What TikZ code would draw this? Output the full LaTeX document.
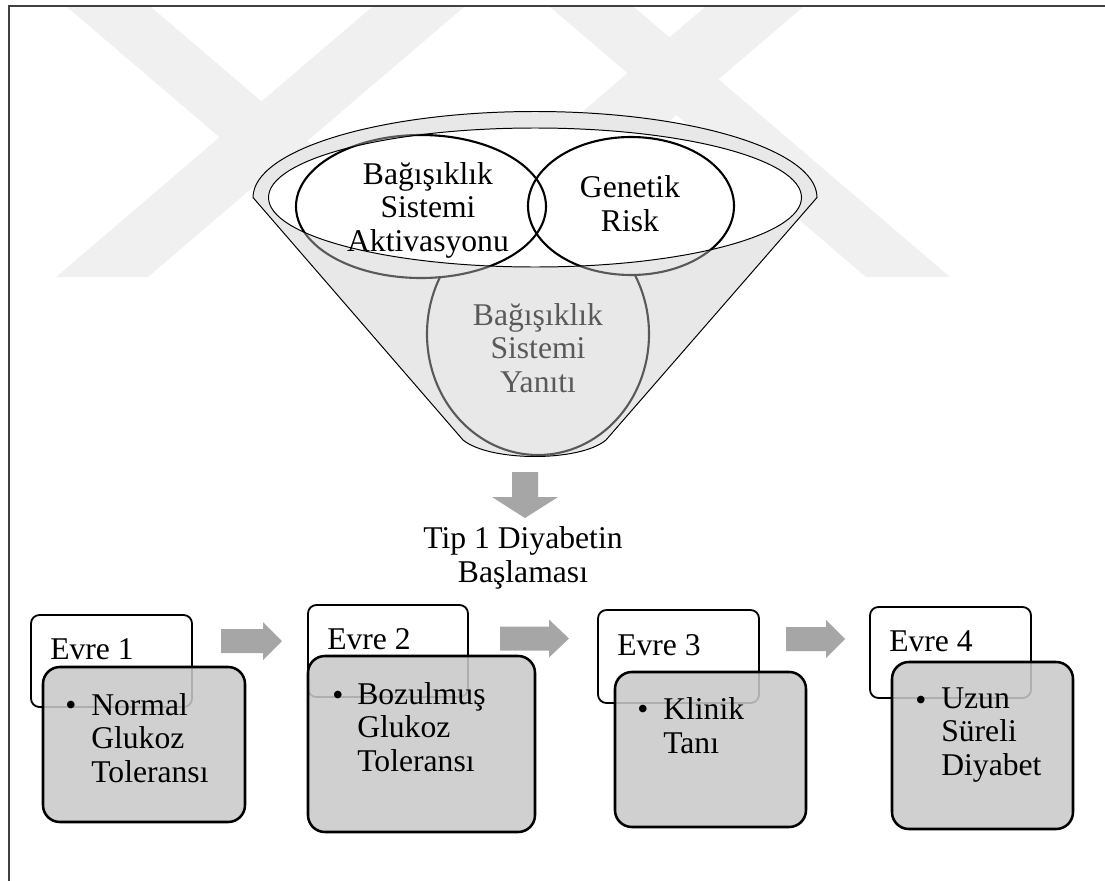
\documentclass[tikz,border=0pt]{standalone}
\usepackage{fontspec}
\setmainfont{Liberation Serif}
\definecolor{wmark}{HTML}{F0F0F0}
\definecolor{frameline}{HTML}{404040}
\definecolor{arrowgray}{HTML}{A6A6A6}
\definecolor{stagegray}{HTML}{C9C9C9}
\definecolor{veil}{HTML}{CCCCCC}

\begin{document}
\begin{tikzpicture}[
  x=0.025cm, y=-0.025cm,
  lbl/.style={font=\fontsize{22.5}{23.5}\selectfont, inner sep=0pt},
  blkarrow/.style={fill=arrowgray},
  evrebox/.style={draw=black, line width=1.3pt, fill=white, rounded corners=6pt},
  itembox/.style={draw=black, line width=1.8pt, fill=stagegray, fill opacity=0.87, rounded corners=12pt},
  ring/.style={line width=0.7pt},
  bubble/.style={line width=1.5pt},
]
\useasboundingbox (0,0) rectangle (1105,881);

% Watermark bands
\fill[wmark] (56,277) -- (148,277) -- (464,7) -- (372,7) -- cycle;
\fill[wmark] (67,7) -- (151,7) -- (467,277) -- (383,277) -- cycle;
\fill[wmark] (389,277) -- (487,277) -- (803,7) -- (705,7) -- cycle;
\fill[wmark] (550,7) -- (634,7) -- (950,277) -- (866,277) -- cycle;

% Frame
\draw[frameline, line width=1.2pt] (9,881) -- (9,6) -- (1105,6);

% === Funnel ===
% body, white underneath
\fill[white] (253,197.5) -- (463,440) .. controls (490,462) and (580,462) .. (606,440)
  -- (817,197.5) arc[start angle=0, end angle=-180, x radius=282, y radius=86] -- cycle;

% bottom circle (anchor base = last line)
\draw[bubble, fill=white] (538,334) ellipse[x radius=111, y radius=121];
\node[lbl, align=center, anchor=base] (yanit) at (538,392)
  {Bağışıklık\\Sistemi\\Yanıtı};

% top circles
\fill[white] (421,206.5) ellipse[x radius=125, y radius=71.5];
\fill[white] (631,206) ellipse[x radius=103, y radius=69];
\draw[bubble] (421,206.5) ellipse[x radius=125, y radius=71.5];
\draw[bubble] (631,206) ellipse[x radius=103, y radius=69];

% front of the funnel (veil), opening left clear
\fill[veil, fill opacity=0.44, even odd rule]
  (253,197.5) -- (463,440) .. controls (490,462) and (580,462) .. (606,440)
  -- (817,197.5) arc[start angle=0, end angle=-180, x radius=282, y radius=86] -- cycle
  (535,197.5) ellipse[x radius=266.5, y radius=69.5];

% funnel outline
\draw[ring] (253,197.5) -- (463,440) .. controls (490,462) and (580,462) .. (606,440)
  -- (817,197.5) arc[start angle=0, end angle=-180, x radius=282, y radius=86];
\draw[ring] (535,197.5) ellipse[x radius=266.5, y radius=69.5];

\node[lbl, align=center, anchor=base] (aktiv) at (428,251)
  {Bağışıklık\\Sistemi\\Aktivasyonu};
\node[lbl, align=center, anchor=base] (genetik) at (630,231)
  {Genetik\\Risk};

% Down arrow + onset label
\fill[blkarrow] (512,472) -- (538,472) -- (538,497) -- (558,497) -- (525,518)
  -- (492,497) -- (512,497) -- cycle;
\node[lbl, align=center, anchor=base] (tip1) at (523,582)
  {Tip 1 Diyabetin\\Başlaması};

% === Stages ===
% Evre 1
\draw[evrebox] (31,615) rectangle (192,707);
\node[lbl, anchor=base west] (evre1) at (50,659) {Evre 1};
\draw[itembox] (43,667) rectangle (245,822);
\node[lbl, anchor=base] (dot1) at (71,715) {\textbullet};
\node[lbl, anchor=base west, align=left] (item1) at (91,782)
  {Normal\\Glukoz\\Toleransı};

% Evre 2
\draw[evrebox] (308,605) rectangle (468,697);
\node[lbl, anchor=base west] (evre2) at (327,649) {Evre 2};
\draw[itembox] (308,656) rectangle (535,832);
\node[lbl, anchor=base] (dot2) at (338,705) {\textbullet};
\node[lbl, anchor=base west, align=left] (item2) at (357,771)
  {Bozulmuş\\Glukoz\\Toleransı};

% Evre 3
\draw[evrebox] (598,610) rectangle (759,703);
\node[lbl, anchor=base west] (evre3) at (617,655) {Evre 3};
\draw[itembox] (615,672) rectangle (806,827);
\node[lbl, anchor=base] (dot3) at (643,719) {\textbullet};
\node[lbl, anchor=base west, align=left] (item3) at (663,753)
  {Klinik\\Tanı};

% Evre 4
\draw[evrebox] (870,607) rectangle (1031,698);
\node[lbl, anchor=base west] (evre4) at (889,651) {Evre 4};
\draw[itembox] (892,662) rectangle (1073,829);
\node[lbl, anchor=base] (dot4) at (921,710) {\textbullet};
\node[lbl, anchor=base west, align=left] (item4) at (941,775)
  {Uzun\\Süreli\\Diyabet};

% Block arrows between stages
\fill[blkarrow] (221,629) -- (263,629) -- (263,622) -- (282,641) -- (263,660)
  -- (263,653) -- (221,653) -- cycle;
\fill[blkarrow] (500,626.5) -- (549,626.5) -- (549,619.5) -- (569,638.5)
  -- (549,657.5) -- (549,650.5) -- (500,650.5) -- cycle;
\fill[blkarrow] (786,627) -- (826,627) -- (826,620) -- (845,639) -- (826,658)
  -- (826,651) -- (786,651) -- cycle;

\end{tikzpicture}
\end{document}
